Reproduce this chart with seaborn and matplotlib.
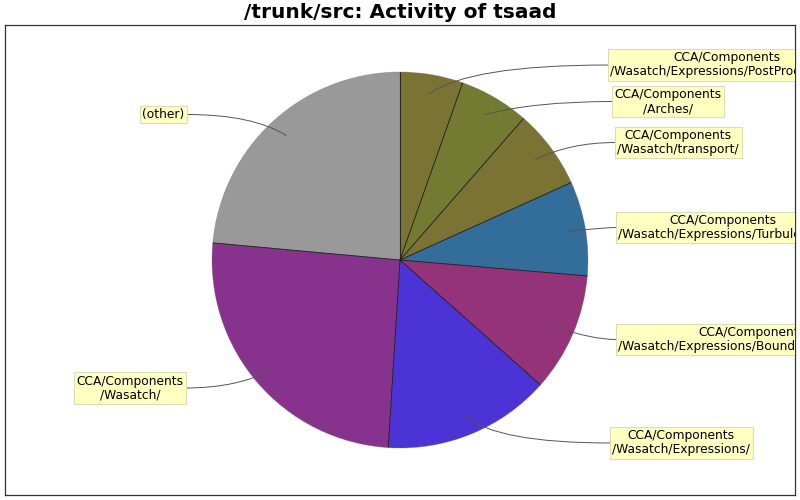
import numpy as np
import matplotlib
matplotlib.use("Agg")
import matplotlib.pyplot as plt
from matplotlib.path import Path
from matplotlib.patches import PathPatch
import seaborn as sns

# ---- data ----
labels = [
    "CCA/Components\n/Wasatch/Expressions/PostProcessing/",
    "CCA/Components\n/Arches/",
    "CCA/Components\n/Wasatch/transport/",
    "CCA/Components\n/Wasatch/Expressions/Turbulence/",
    "CCA/Components\n/Wasatch/Expressions/BoundaryConditions/",
    "CCA/Components\n/Wasatch/Expressions/",
    "CCA/Components\n/Wasatch/",
    "(other)",
]
values = [54, 60, 68, 81, 102, 144, 254, 235]
colors = ["#7b7333", "#737b33", "#7b7333", "#336e9b",
          "#943379", "#4c33d6", "#87338e", "#999999"]
title = "/trunk/src: Activity of tsaad"

# ---- layout (pixel coords, y down) ----
box_anchor = [  # (x of box edge nearest pie, y middle of box, side)
    (608, 65, "R"),
    (612, 101.5, "R"),
    (615, 142.5, "R"),
    (616, 227.5, "R"),
    (616, 339.5, "R"),
    (610, 443, "R"),
    (186, 388, "L"),
    (187, 114.5, "L"),
]

sns.set_theme(style="white")
plt.rcParams['font.family'] = ['DejaVu Sans']

W, H = 800, 500
fig = plt.figure(figsize=(8, 5), dpi=100)
ax = fig.add_axes([5 / W, 5 / H, 790 / W, 470 / H])

def py(y):
    return H - y

cx, cy, R = 400, py(260), 188
wedges, _ = ax.pie(values, colors=colors, startangle=90, counterclock=False,
                   center=(cx, cy), radius=R, frame=True,
                   wedgeprops=dict(edgecolor="none", linewidth=0, antialiased=True))
for w in wedges:
    w.set_edgecolor((0.35, 0.35, 0.35, 0.35))
    w.set_linewidth(0.5)
for w in wedges:
    t = np.deg2rad(w.theta1)
    ax.plot([cx, cx + R * np.cos(t)], [cy, cy + R * np.sin(t)],
            color="#1a1a1a", lw=0.6, solid_capstyle="butt", zorder=3)

ax.set_xlim(5, 795)
ax.set_ylim(5, 475)
ax.set_aspect("auto")
ax.set_xticks([])
ax.set_yticks([])
for s in ax.spines.values():
    s.set_visible(True)
    s.set_color("#333333")
    s.set_linewidth(0.9)

fs = 8.8
pad_px = 0.2 * fs * 100 / 72
r_link = 1.1 * R
for w, lab, (bx, by, side) in zip(wedges, labels, box_anchor):
    mid = np.deg2rad((w.theta1 + w.theta2) / 2)
    d = np.array([np.cos(mid), np.sin(mid)])
    p0 = np.array([cx, cy]) + 0.895 * R * d
    p3 = np.array([bx, py(by)])
    sgn = 1 if side == "R" else -1
    dy = p3[1] - cy
    ex = cx + sgn * np.sqrt(max(r_link ** 2 - dy ** 2, 0))
    e = np.array([ex, p3[1]])
    path = Path([p0, e, p3], [Path.MOVETO, Path.CURVE3, Path.CURVE3])
    ax.add_patch(PathPatch(path, fc="none", ec="#555555", lw=0.7, zorder=4))
    if side == "R":
        tx, ha = bx + pad_px, "left"
    else:
        tx, ha = bx - pad_px, "right"
    ax.text(tx, py(by), lab, ha=ha, va="center", multialignment="center",
            fontsize=fs, color="black", zorder=6, clip_on=True,
            linespacing=1.1,
            bbox=dict(boxstyle="square,pad=0.2", fc="#ffffc0", ec="#dcdcb8", lw=0.8))

fig.text(0.5, 1 - 13 / H, title, ha="center", va="center",
         fontsize=14.5, fontweight="bold", color="black")

fig.savefig("out.png", dpi=100)
